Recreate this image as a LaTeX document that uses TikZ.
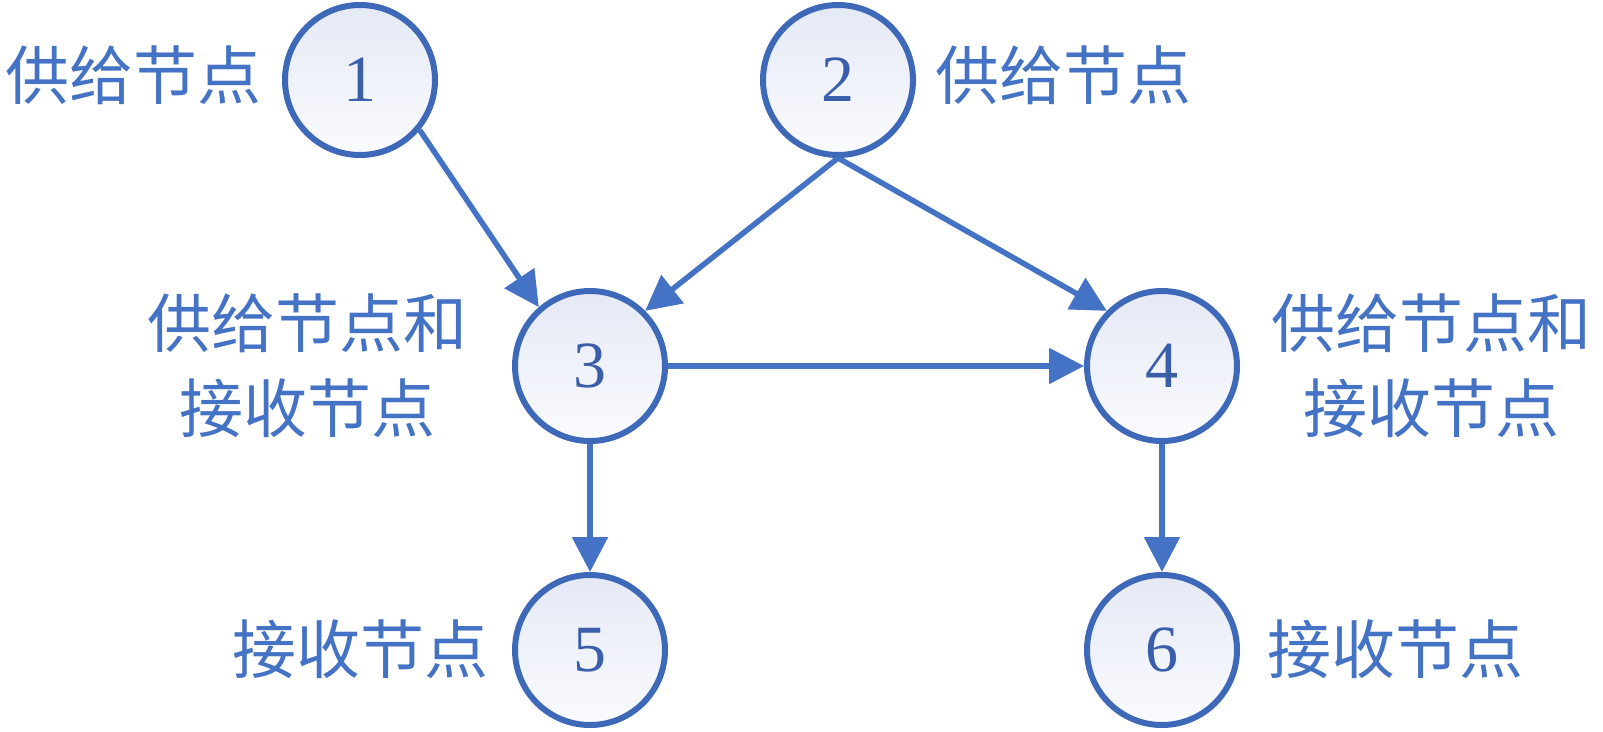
\documentclass[tikz,border=0pt]{standalone}
\usepackage{fontspec}
\setmainfont{Liberation Serif}
\newfontfamily\cjk{Noto Sans CJK SC}
\usetikzlibrary{arrows.meta}
\definecolor{myblue}{RGB}{68,114,196}
\definecolor{ringblue}{RGB}{62,104,184}
\definecolor{digitblue}{RGB}{58,94,170}
\definecolor{topfill}{RGB}{229,233,245}
\definecolor{botfill}{RGB}{250,251,254}
\tikzset{
  vert/.style={circle, draw=ringblue, line width=6pt, minimum size=150pt, inner sep=0pt,
    top color=topfill, bottom color=botfill, text=digitblue,
    font=\fontsize{66}{70}\selectfont},
  lab/.style={text=myblue, inner sep=0pt, font=\cjk\fontsize{64}{85}\selectfont},
  conn/.style={draw=myblue, line width=5.5pt, -{Triangle[length=35pt,width=35pt]}}
}
\begin{document}
\begin{tikzpicture}[x=1pt,y=-1pt]
\useasboundingbox (0,0) rectangle (1603,731);
\node[vert] (n1) at (360,80) {1};
\node[vert] (n2) at (838,80) {2};
\node[vert] (n3) at (590,366) {3};
\node[vert] (n4) at (1162,366) {4};
\node[vert] (n5) at (590,650) {5};
\node[vert] (n6) at (1162,650) {6};
\node[lab, anchor=base east] (l1) at (262,99) {供给节点};
\node[lab, anchor=base west] (l2) at (935,99) {供给节点};
\node[lab, align=center] (l3) at (307,366) {供给节点和\\接收节点};
\node[lab, align=center] (l4) at (1431,366) {供给节点和\\接收节点};
\node[lab, anchor=base east] (l5) at (489,673) {接收节点};
\node[lab, anchor=base west] (l6) at (1267,673) {接收节点};
\draw[conn] (n1.-40) -- (n3.131);
\draw[conn] (n2.south) -- (n3.45);
\draw[conn] (n2.south) -- (n4.135);
\draw[conn] (n3.east) -- (n4.west);
\draw[conn] (n3.south) -- (n5.north);
\draw[conn] (n4.south) -- (n6.north);
\end{tikzpicture}
\end{document}
